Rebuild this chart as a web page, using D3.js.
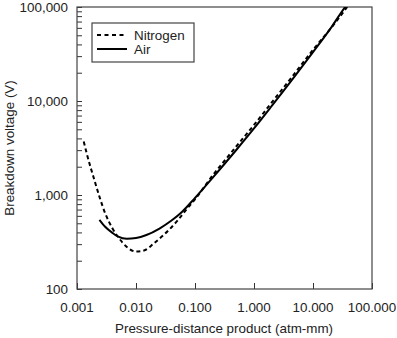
<!DOCTYPE html>
<html>
<head>
<meta charset="utf-8">
<script src="https://cdn.jsdelivr.net/npm/d3@7"></script>
<style>
  html, body { margin: 0; padding: 0; background: #fff; }
  svg text { font-family: "Liberation Sans", Arial, Helvetica, sans-serif; fill: #222; }
</style>
</head>
<body>
<svg id="chart" width="397" height="338"></svg>
<script>
// ---- data ----
const nitrogenP = [0.0013, 0.0015, 0.002, 0.0024, 0.003, 0.004, 0.005, 0.007, 0.01, 0.014, 0.02, 0.03, 0.05, 0.07, 0.1, 0.2, 0.3, 0.5, 1, 2, 3, 5, 10, 21, 38];
const nitrogenV = [3700, 2600, 1400, 960, 640, 440, 356, 280, 250, 258, 305, 380, 530, 690, 900, 1620, 2220, 3280, 5560, 9650, 13300, 20000, 35000, 61500, 100000];
const airP = [0.0024, 0.003, 0.004, 0.005, 0.007, 0.01, 0.015, 0.025, 0.04, 0.06, 0.1, 0.2, 0.3, 0.5, 1, 2, 3, 5, 10, 20, 35, 36];
const airV = [545, 460, 395, 360, 342, 348, 375, 440, 535, 660, 930, 1532, 2060, 3010, 5100, 8850, 12270, 18600, 33070, 59600, 99700, 102000];
const xTickValues = [0.001, 0.01, 0.1, 1, 10, 100];
const xTickLabels = ["0.001", "0.010", "0.100", "1.000", "10.000", "100.000"];
const yTickValues = [100, 1000, 10000, 100000];
const yTickLabels = ["100", "1,000", "10,000", "100,000"];
const seriesNames = ["Nitrogen", "Air"];
const xTitle = "Pressure-distance product (atm-mm)";
const yTitle = "Breakdown voltage (V)";

// ---- layout ----
const svg = d3.select("#chart");
const L = 77, T = 7, R = 372, B = 289;
const x = d3.scaleLog().domain([0.001, 100]).range([L, R]);
const y = d3.scaleLog().domain([100, 100000]).range([B, T]);
const fs = 13.4;

// minor y ticks
const yMinor = [];
for (let d = 100; d < 100000; d *= 10) for (let k = 2; k <= 9; k++) yMinor.push(d * k);

const g = svg.append("g");

// y axis (ticks inside)
const yAxis = d3.axisRight(y).tickValues(yMinor.concat(yTickValues)).tickSize(5).tickFormat("");
g.append("g").attr("transform", `translate(${L},0)`).call(yAxis)
  .call(s => s.select(".domain").remove())
  .call(s => s.selectAll("line").attr("stroke", "#333").attr("stroke-width", 1));

// x axis (ticks inside)
const xAxis = d3.axisTop(x).tickValues(xTickValues).tickSize(6).tickFormat("");
g.append("g").attr("transform", `translate(0,${B})`).call(xAxis)
  .call(s => s.select(".domain").remove())
  .call(s => s.selectAll("line").attr("stroke", "#333").attr("stroke-width", 1));

// frame
g.append("rect").attr("x", L).attr("y", T).attr("width", R - L).attr("height", B - T)
  .attr("fill", "none").attr("stroke", "#444").attr("stroke-width", 1.2);

// tick labels
g.selectAll(".ylab").data(yTickValues).enter().append("text")
  .attr("x", 68).attr("y", d => y(d)).attr("dy", "0.36em")
  .attr("text-anchor", "end").attr("font-size", fs)
  .text((d, i) => yTickLabels[i]);
g.selectAll(".xlab").data(xTickValues).enter().append("text")
  .attr("x", d => x(d)).attr("y", 312)
  .attr("text-anchor", "middle").attr("font-size", fs)
  .text((d, i) => xTickLabels[i]);

// titles
g.append("text").attr("x", 224).attr("y", 333).attr("text-anchor", "middle")
  .attr("font-size", fs).text(xTitle);
g.append("text").attr("transform", `translate(14,${(T + B) / 2}) rotate(-90)`)
  .attr("text-anchor", "middle").attr("font-size", fs).text(yTitle);

// lines
const line = d3.line().x(d => x(d[0])).y(d => y(d[1])).curve(d3.curveMonotoneX);
const nData = nitrogenP.map((p, i) => [p, nitrogenV[i]]);
const aData = airP.map((p, i) => [p, airV[i]]);
svg.append("clipPath").attr("id", "clip").append("rect")
  .attr("x", L).attr("y", T).attr("width", R - L).attr("height", B - T);
const lines = g.append("g").attr("clip-path", "url(#clip)");
lines.append("path").datum(aData).attr("d", line)
  .attr("fill", "none").attr("stroke", "#000").attr("stroke-width", 2);
lines.append("path").datum(nData).attr("d", line)
  .attr("fill", "none").attr("stroke", "#000").attr("stroke-width", 2)
  .attr("stroke-dasharray", "4,3");

// legend
const lg = g.append("g");
lg.append("rect").attr("x", 92).attr("y", 23).attr("width", 102).attr("height", 39)
  .attr("fill", "#fff").attr("stroke", "#444").attr("stroke-width", 1.2);
const legY = [35, 49];
seriesNames.forEach((name, i) => {
  lg.append("line").attr("x1", 97).attr("x2", 127).attr("y1", legY[i]).attr("y2", legY[i])
    .attr("stroke", "#000").attr("stroke-width", 2)
    .attr("stroke-dasharray", i === 0 ? "4,3.5" : null);
  lg.append("text").attr("x", 134).attr("y", legY[i]).attr("dy", "0.36em")
    .attr("font-size", fs).text(name);
});
</script>
</body>
</html>
